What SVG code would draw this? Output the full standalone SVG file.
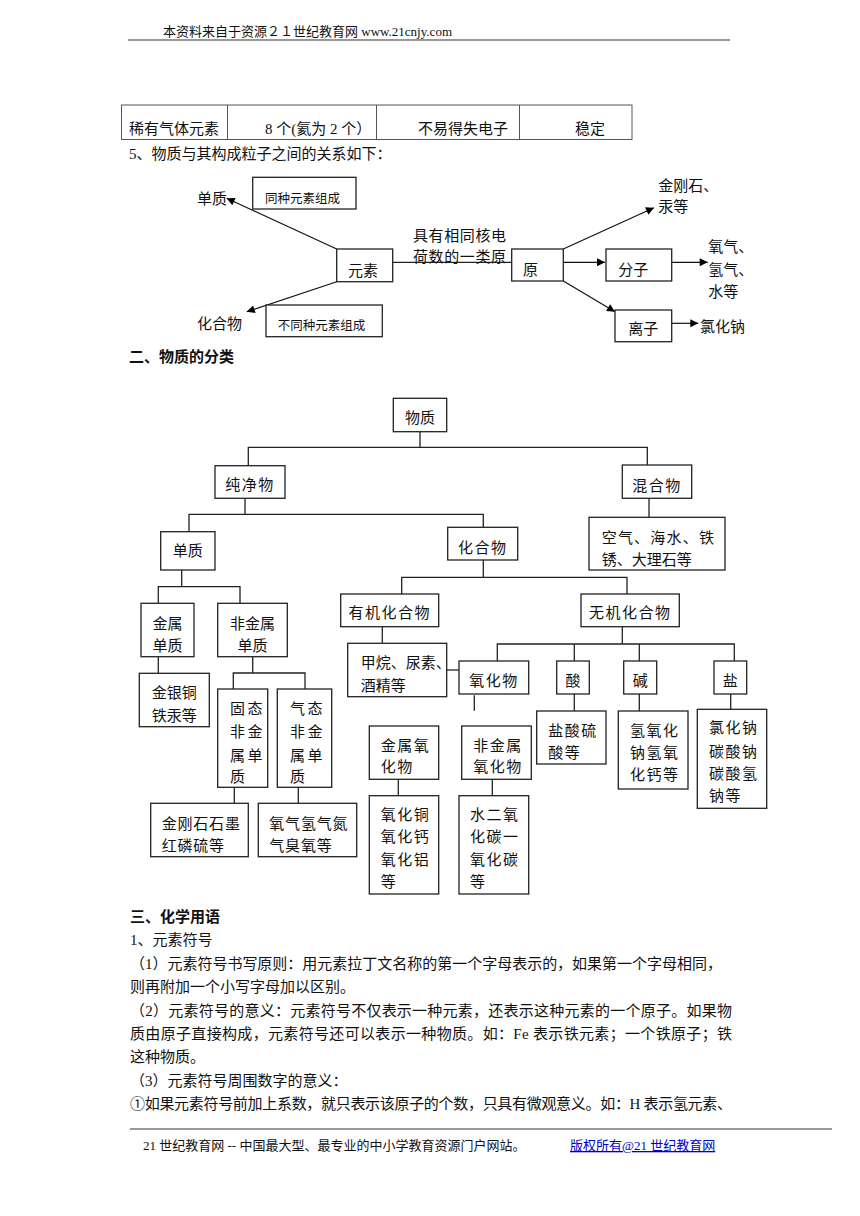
<svg xmlns="http://www.w3.org/2000/svg" width="860" height="1216" viewBox="0 0 860 1216">
<style>
.bx{fill:#fff;stroke:#222;stroke-width:1.3}
.ln{fill:none;stroke:#222;stroke-width:1.3}
.ar{fill:none;stroke:#111;stroke-width:1.2;marker-end:url(#ah)}
text{font-family:"Liberation Serif","Noto Sans CJK SC",serif;fill:#111}
.t{font-size:15px}
.s{font-size:12.5px}
.h{font-size:13px}
.bd{font-size:15px;font-weight:bold}
.m{text-anchor:middle}
.ls{letter-spacing:1.5px}
</style>
<defs>
<marker id="ah" viewBox="0 0 10 10" refX="10" refY="5" markerWidth="10" markerHeight="8" markerUnits="userSpaceOnUse" orient="auto">
<path d="M0,0 L10,5 L0,10 z" fill="#000"/>
</marker>
</defs>
<rect width="860" height="1216" fill="#fff"/>

<!-- header -->
<g id="header">
<text class="h" x="163" y="36">本资料来自于资源２１世纪教育网 www.21cnjy.com</text>
<line x1="128" y1="40" x2="730" y2="40" stroke="#333" stroke-width="1.2"/>
</g>

<!-- table -->
<g id="table">
<rect x="121.5" y="105" width="510.5" height="34.5" fill="none" stroke="#555" stroke-width="1"/>
<line x1="227.5" y1="105" x2="227.5" y2="139.5" stroke="#555" stroke-width="1"/>
<line x1="376.5" y1="105" x2="376.5" y2="139.5" stroke="#555" stroke-width="1"/>
<line x1="519.5" y1="105" x2="519.5" y2="139.5" stroke="#555" stroke-width="1"/>
<text class="t" x="129" y="134">稀有气体元素</text>
<text class="t" x="265" y="134">8 个(氦为 2 个）</text>
<text class="t" x="418" y="134">不易得失电子</text>
<text class="t" x="575" y="134">稳定</text>
</g>
<text class="t" x="129" y="159">5、物质与其构成粒子之间的关系如下：</text>

<!-- relation diagram -->
<g id="rel-connectors">
<line class="ln" x1="392.7" y1="262.3" x2="511.7" y2="262.3"/>
<line class="ar" x1="336.7" y1="249" x2="226.7" y2="198.3"/>
<line class="ar" x1="336.7" y1="281.7" x2="246.7" y2="311.7"/>
<line class="ar" x1="563.3" y1="249" x2="654" y2="207.7"/>
<line class="ar" x1="563.3" y1="262.3" x2="605" y2="262.3"/>
<line class="ar" x1="671.7" y1="262.3" x2="707.7" y2="262.3"/>
<line class="ar" x1="563.3" y1="281" x2="615" y2="311.7"/>
<line class="ar" x1="671.7" y1="323.3" x2="698.3" y2="323.3"/>
</g>
<g id="r-danzhi"><text class="t" x="197" y="203.5">单质</text></g>
<g id="r-tongzhong"><rect class="bx" x="252.7" y="177.3" width="103.3" height="31.7"/><text class="s" x="265" y="203">同种元素组成</text></g>
<g id="r-yuansu"><rect class="bx" x="336.7" y="249" width="56" height="32.7"/><text class="t" x="348" y="275.5">元素</text></g>
<g id="r-label"><text class="t" x="413" y="240.5" letter-spacing="0.6">具有相同核电</text><text class="t" x="413" y="262" letter-spacing="0.6">荷数的一类原</text></g>
<g id="r-huahewu"><text class="t" x="197" y="329">化合物</text></g>
<g id="r-butong"><rect class="bx" x="266" y="305" width="116.3" height="31.7"/><text class="s" x="277.7" y="330">不同种元素组成</text></g>
<g id="r-yuan"><rect class="bx" x="511.7" y="249" width="51.6" height="32"/><text class="t" x="523" y="274.5">原</text></g>
<g id="r-jingangshi"><text class="t" x="658.3" y="190.5">金刚石、</text><text class="t" x="658.3" y="212">汞等</text></g>
<g id="r-fenzi"><rect class="bx" x="606" y="249" width="65.7" height="32"/><text class="t" x="618.3" y="274.5">分子</text></g>
<g id="r-yangqi"><text class="t" x="708.3" y="251.5">氧气、</text><text class="t" x="708.3" y="274.8">氢气、</text><text class="t" x="708.3" y="296.5">水等</text></g>
<g id="r-lizi"><rect class="bx" x="615" y="310" width="56.7" height="31.7"/><text class="t" x="628.3" y="333.8">离子</text></g>
<g id="r-lvhuana"><text class="t" x="700" y="332">氯化钠</text></g>

<text class="bd" x="129" y="362">二、物质的分类</text>

<!-- classification tree -->
<g id="tree-connectors" class="ln">
<path d="M420 431.7V447.3M248.3 465.7V447.3H647.3V465"/>
<path d="M245 498.3V514.3M189 531.7V514.3H483.3V527.3"/>
<path d="M649 498.3V517.3"/>
<path d="M181.7 570V586.7M158.3 603.3V586.7H240V603.3"/>
<path d="M158.3 656.7V673.3"/>
<path d="M252.7 656.7V673M233.3 689V673H305V689"/>
<path d="M234.3 787.3V803.3M298.3 787.3V803.3"/>
<path d="M483.3 560V577.3M401.7 594V577.3H627V594"/>
<path d="M382.3 626.7V643.3"/>
<path d="M446.7 670H459"/>
<path d="M622.3 626.7V644M497.3 661V644H734.3V661M574.3 644V661M639.3 644V661"/>
<path d="M474.3 695.3V710.7"/>
<path d="M574.3 694V711M639.3 694V711M730.7 694V709.3"/>
<path d="M398.3 779.3V795.7M492.3 779.3V795.7"/>
</g>

<g id="n-wuzhi"><rect class="bx" x="393.3" y="398.3" width="53.4" height="33.4"/><text class="t m" x="420" y="423">物质</text></g>
<g id="n-chunjingwu"><rect class="bx" x="215" y="465.7" width="70" height="32.6"/><text class="t m ls" x="250" y="490">纯净物</text></g>
<g id="n-hunhewu"><rect class="bx" x="622.3" y="465" width="69.4" height="33.3"/><text class="t m ls" x="657" y="490.5">混合物</text></g>
<g id="n-kongqi"><rect class="bx" x="589" y="517.3" width="136" height="52.7"/><text class="t" x="601.7" y="542.8" letter-spacing="1.2">空气、海水、铁</text><text class="t" x="601.7" y="564.8">锈、大理石等</text></g>
<g id="n-danzhi"><rect class="bx" x="160.7" y="531.7" width="54.3" height="38.3"/><text class="t m" x="187.8" y="556.2">单质</text></g>
<g id="n-huahewu"><rect class="bx" x="447.7" y="527.3" width="70" height="32.7"/><text class="t m ls" x="482.7" y="552.8">化合物</text></g>
<g id="n-youji"><rect class="bx" x="340.7" y="594" width="98" height="32.7"/><text class="t m ls" x="389.7" y="618">有机化合物</text></g>
<g id="n-wuji"><rect class="bx" x="581" y="594" width="98.3" height="32.7"/><text class="t m ls" x="630.2" y="618">无机化合物</text></g>
<g id="n-jinshudanzhi"><rect class="bx" x="141" y="603.3" width="53" height="53.4"/><text class="t m" x="167.5" y="628.8">金属</text><text class="t m" x="167.5" y="650.5">单质</text></g>
<g id="n-feijinshudanzhi"><rect class="bx" x="217.7" y="603.3" width="69.6" height="53.4"/><text class="t m" x="252.5" y="628.8">非金属</text><text class="t m" x="252.5" y="650.5">单质</text></g>
<g id="n-jinyintong"><rect class="bx" x="139.3" y="673.3" width="70" height="53.4"/><text class="t" x="151.7" y="697.5">金银铜</text><text class="t" x="151.7" y="720.5">铁汞等</text></g>
<g id="n-gutai"><rect class="bx" x="217.7" y="689" width="50" height="98.3"/><text class="t" x="230" y="713.8" letter-spacing="2.5">固态</text><text class="t" x="230" y="737.2" letter-spacing="2.5">非金</text><text class="t" x="230" y="760.5" letter-spacing="2.5">属单</text><text class="t" x="230" y="782.2">质</text></g>
<g id="n-qitai"><rect class="bx" x="277.3" y="689" width="54.4" height="98.3"/><text class="t" x="290" y="713.8" letter-spacing="2.5">气态</text><text class="t" x="290" y="737.2" letter-spacing="2.5">非金</text><text class="t" x="290" y="760.5" letter-spacing="2.5">属单</text><text class="t" x="290" y="782.2">质</text></g>
<g id="n-jingangshi"><rect class="bx" x="150.7" y="803.3" width="97.6" height="53.4"/><text class="t" x="161.7" y="828.5" letter-spacing="0.8">金刚石石墨</text><text class="t" x="161.7" y="850.5" letter-spacing="0.8">红磷硫等</text></g>
<g id="n-yangqiqingqi"><rect class="bx" x="258.3" y="803.3" width="98.4" height="53.4"/><text class="t" x="269.3" y="828.5" letter-spacing="0.8">氧气氢气氮</text><text class="t" x="269.3" y="850.5" letter-spacing="0.8">气臭氧等</text></g>
<g id="n-jiawan"><rect class="bx" x="347.7" y="643.3" width="99" height="53.4"/><text class="t" x="360.7" y="668.2">甲烷、尿素、</text><text class="t" x="360.7" y="690.5">酒精等</text></g>
<g id="n-yanghuawu"><rect class="bx" x="459" y="661" width="69.7" height="33"/><text class="t m ls" x="494" y="685.5">氧化物</text></g>
<g id="n-suan"><rect class="bx" x="556.7" y="661" width="32.6" height="33"/><text class="t m" x="573" y="685.5">酸</text></g>
<g id="n-jian"><rect class="bx" x="623.7" y="661" width="33" height="33"/><text class="t m" x="640.2" y="685.5">碱</text></g>
<g id="n-yan"><rect class="bx" x="714" y="661" width="32.7" height="33"/><text class="t m" x="730.3" y="685.5">盐</text></g>
<g id="n-yansuan"><rect class="bx" x="536.7" y="711" width="69.3" height="53"/><text class="t ls" x="548.3" y="735.5">盐酸硫</text><text class="t ls" x="548.3" y="758">酸等</text></g>
<g id="n-qingyanghuana"><rect class="bx" x="618.3" y="711" width="69.7" height="78"/><text class="t ls" x="630" y="735.5">氢氧化</text><text class="t ls" x="630" y="758">钠氢氧</text><text class="t ls" x="630" y="780">化钙等</text></g>
<g id="n-lvhuana"><rect class="bx" x="697.3" y="709.3" width="69.4" height="99"/><text class="t ls" x="709" y="732.8">氯化钠</text><text class="t ls" x="709" y="756.5">碳酸钠</text><text class="t ls" x="709" y="778.8">碳酸氢</text><text class="t ls" x="709" y="800.5">钠等</text></g>
<g id="n-jinshuyanghuawu"><rect class="bx" x="369.3" y="726" width="69.4" height="53.3"/><text class="t ls" x="380.7" y="750.5">金属氧</text><text class="t ls" x="380.7" y="772">化物</text></g>
<g id="n-feijinshuyanghuawu"><rect class="bx" x="461.7" y="726" width="69.6" height="53.3"/><text class="t ls" x="473.3" y="750.5">非金属</text><text class="t ls" x="473.3" y="772">氧化物</text></g>
<g id="n-yanghuatong"><rect class="bx" x="369.3" y="795.7" width="69.4" height="98.3"/><text class="t ls" x="380.7" y="819.5">氧化铜</text><text class="t ls" x="380.7" y="842">氧化钙</text><text class="t ls" x="380.7" y="864.8">氧化铝</text><text class="t ls" x="380.7" y="887">等</text></g>
<g id="n-shui"><rect class="bx" x="459" y="795.7" width="69.7" height="98.3"/><text class="t ls" x="470" y="819.5">水二氧</text><text class="t ls" x="470" y="842">化碳一</text><text class="t ls" x="470" y="864.8">氧化碳</text><text class="t ls" x="470" y="887">等</text></g>

<!-- body text -->
<g id="body">
<text class="bd" x="130" y="922">三、化学用语</text>
<text class="t" x="130" y="945.4">1、元素符号</text>
<text class="t" x="130" y="968.8" textLength="592" lengthAdjust="spacing">（1）元素符号书写原则：用元素拉丁文名称的第一个字母表示的，如果第一个字母相同，</text>
<text class="t" x="130" y="992.1">则再附加一个小写字母加以区别。</text>
<text class="t" x="130" y="1015.5" textLength="602" lengthAdjust="spacing">（2）元素符号的意义：元素符号不仅表示一种元素，还表示这种元素的一个原子。如果物</text>
<text class="t" x="130" y="1038.9" textLength="602" lengthAdjust="spacing">质由原子直接构成，元素符号还可以表示一种物质。如：Fe 表示铁元素；一个铁原子；铁</text>
<text class="t" x="130" y="1062.3">这种物质。</text>
<text class="t" x="130" y="1085.6">（3）元素符号周围数字的意义：</text>
<text class="t" x="130" y="1109" textLength="602" lengthAdjust="spacing">①如果元素符号前加上系数，就只表示该原子的个数，只具有微观意义。如：H 表示氢元素、</text>
</g>

<!-- footer -->
<g id="footer">
<line x1="130" y1="1129" x2="832" y2="1129" stroke="#333" stroke-width="1.2"/>
<text class="h" x="143" y="1150">21 世纪教育网 -- 中国最大型、最专业的中小学教育资源门户网站。</text>
<text class="h" x="570" y="1150" style="fill:#00c" text-decoration="underline">版权所有@21 世纪教育网</text>
</g>
</svg>
